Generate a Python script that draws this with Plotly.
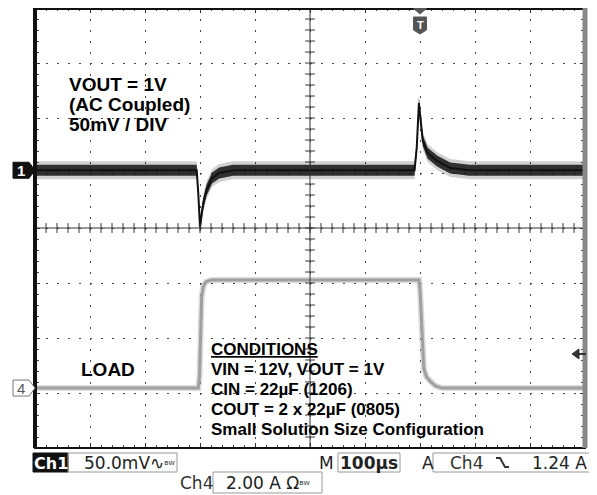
import plotly.graph_objects as go

# ---------------- data ----------------
# time in microseconds (100 us / div, 10 div across)
ch1_t = [0, 294, 297, 300, 303, 306, 312, 322, 335, 360, 690, 694, 698, 701, 705, 714, 731, 755, 790, 1000]
ch1_mv = [0, 0, -22, -52, -40, -30, -18, -7, -2.5, 0, 0, 20, 61, 45, 27, 15.5, 8.5, 2, 0, 0]  # mV (AC coupled)
ch4_t = [0, 297, 299, 301, 303, 306, 311, 320, 698, 700, 702, 704, 707, 712, 718, 728, 740, 1000]
ch4_a = [0, 0, 0.4, 2.0, 3.3, 3.7, 3.87, 3.93, 3.93, 3.6, 2.6, 1.7, 0.7, 0.4, 0.25, 0.08, 0, 0]  # A

CH1_SCALE = 50.0   # mV/div
CH4_SCALE = 2.0    # A/div
CH1_POS = 1.05     # div
CH4_POS = -2.91    # div
TRIG_T = 700       # us
TRIG_LEVEL = 1.24  # A

text_vout = ["VOUT = 1V", "(AC Coupled)", "50mV / DIV"]
text_cond = ["VIN = 12V, VOUT = 1V", "CIN = 22µF (1206)", "COUT = 2 x 22µF (0805)",
             "Small Solution Size Configuration"]

# ---------------- helpers (window pixel coords; page body has 8px margin) ----------------
OFF = 8
W, H = 597 - OFF, 495 - OFF
L, R, T, B = 35, 585, 8, 448
def PX(x): return (x - L) / (R - L)
def PY(y): return (B - y) / (B - T)
def DY(px):  # pixel height -> divisions
    return px * 8.0 / (B - T)

y1 = [CH1_POS + v / CH1_SCALE for v in ch1_mv]
y4 = [CH4_POS + a / CH4_SCALE for a in ch4_a]

fig = go.Figure()

def band(t, y, half, color):
    up = [v + half for v in y]
    lo = [v - half for v in y]
    fig.add_trace(go.Scatter(x=t, y=up, mode="lines", line=dict(width=0, color=color),
                             hoverinfo="skip", showlegend=False))
    fig.add_trace(go.Scatter(x=t, y=lo, mode="lines", line=dict(width=0, color=color),
                             fill="tonexty", fillcolor=color, hoverinfo="skip", showlegend=False))

# ch1 noisy band
band(ch1_t, y1, DY(9), "rgba(0,0,0,0.18)")
band(ch1_t, y1, DY(5.5), "rgba(25,25,25,0.88)")
fig.add_trace(go.Scatter(x=ch1_t, y=y1, mode="lines", line=dict(width=2, color="#111"),
                         hoverinfo="skip", showlegend=False))
# ch4
fig.add_trace(go.Scatter(x=ch4_t, y=y4, mode="lines", line=dict(width=6, color="rgba(175,175,175,0.45)"),
                         hoverinfo="skip", showlegend=False))
fig.add_trace(go.Scatter(x=ch4_t, y=y4, mode="lines", line=dict(width=3, color="#a0a0a0"),
                         hoverinfo="skip", showlegend=False))

# center cross tick marks
ht = [i * 20 for i in range(51)]
fig.add_trace(go.Scatter(x=ht, y=[0] * len(ht), mode="markers",
                         marker=dict(symbol="line-ns", size=7, line=dict(width=1, color="#333")),
                         hoverinfo="skip", showlegend=False))
vt = [-4 + i * 0.2 for i in range(41)]
fig.add_trace(go.Scatter(x=[500] * len(vt), y=vt, mode="markers",
                         marker=dict(symbol="line-ew", size=7, line=dict(width=1, color="#333")),
                         hoverinfo="skip", showlegend=False))

shapes = []
# center lines
shapes.append(dict(type="line", xref="x", yref="y", x0=0, x1=1000, y0=0, y1=0, line=dict(color="#333", width=1)))
shapes.append(dict(type="line", xref="x", yref="y", x0=500, x1=500, y0=-4, y1=4, line=dict(color="#333", width=1)))
# borders
shapes.append(dict(type="line", xref="paper", yref="paper", x0=0, x1=1, y0=1, y1=1, line=dict(color="#111", width=4)))
shapes.append(dict(type="line", xref="paper", yref="paper", x0=0, x1=0, y0=0, y1=1, line=dict(color="#111", width=4)))
shapes.append(dict(type="line", xref="paper", yref="paper", x0=0, x1=1, y0=0, y1=0, line=dict(color="#111", width=2)))
shapes.append(dict(type="line", xref="paper", yref="paper", x0=1, x1=1, y0=0, y1=1, line=dict(color="#888", width=5)))

# channel markers
def chan_marker(ypos, fill, line):
    h = DY(8)
    p = (f"M{PX(13)},{ypos + h} L{PX(29)},{ypos + h} L{PX(35)},{ypos} "
         f"L{PX(29)},{ypos - h} L{PX(13)},{ypos - h} Z")
    return dict(type="path", xref="paper", yref="y", path=p, fillcolor=fill, line=dict(color=line, width=1))
shapes.append(chan_marker(CH1_POS, "#111", "#111"))
shapes.append(chan_marker(CH4_POS, "white", "#777"))

# trigger position marker (T)
dx = 100.0 / 55.0
tp = (f"M{TRIG_T - 6.5 * dx},{PY(17)} L{TRIG_T + 6.5 * dx},{PY(17)} L{TRIG_T + 6.5 * dx},{PY(30)} "
      f"L{TRIG_T},{PY(34)} L{TRIG_T - 6.5 * dx},{PY(30)} Z")
shapes.append(dict(type="path", xref="x", yref="paper", path=tp, fillcolor="#555", line=dict(color="#555", width=1)))
tt = f"M{TRIG_T - 7 * dx},{PY(8)} L{TRIG_T + 7 * dx},{PY(8)} L{TRIG_T},{PY(14)} Z"
shapes.append(dict(type="path", xref="x", yref="paper", path=tt, fillcolor="#555", line=dict(color="#555", width=1)))

# trigger level arrow at right
ty = CH4_POS + TRIG_LEVEL / CH4_SCALE
ap = f"M{PX(572)},{ty} L{PX(579)},{ty + DY(5)} L{PX(579)},{ty - DY(5)} Z"
shapes.append(dict(type="path", xref="paper", yref="y", path=ap, fillcolor="#333", line=dict(color="#333", width=1)))
shapes.append(dict(type="line", xref="paper", yref="y", x0=PX(578), x1=PX(586), y0=ty, y1=ty, line=dict(color="#333", width=2)))

# bottom readout boxes
def box(x0, y0, x1, y1, fill="rgba(0,0,0,0)", line="#999"):
    return dict(type="rect", xref="paper", yref="paper", x0=PX(x0), x1=PX(x1), y0=PY(y1), y1=PY(y0),
                fillcolor=fill, line=dict(color=line, width=1))
shapes.append(box(33, 453, 68, 472, fill="#111", line="#111"))
shapes.append(box(68, 453, 177, 472))
shapes.append(box(338, 453, 400, 472))
shapes.append(box(433, 453, 620, 472))
shapes.append(box(213, 472, 322, 493))
# falling edge glyph
shapes.append(dict(type="path", xref="paper", yref="paper",
                   path=f"M{PX(496)},{PY(458)} L{PX(500)},{PY(458)} L{PX(505)},{PY(467)} L{PX(509)},{PY(467)}",
                   line=dict(color="#333", width=2)))

ann = []
def txt(x, y, s, size=15, color="#222", family="DejaVu Sans", xanchor="left", bold=False, yref="paper"):
    ann.append(dict(x=PX(x), y=(PY(y) if yref == "paper" else y), xref="paper", yref=yref,
                    text=(f"<b>{s}</b>" if bold else s), showarrow=False,
                    xanchor=xanchor, yanchor="middle",
                    font=dict(size=size, color=color, family=family)))

# channel marker labels
txt(21, CH1_POS, "1", size=15, color="white", family="Liberation Sans", xanchor="center", bold=True, yref="y")
txt(21, CH4_POS, "4", size=15, color="#555", family="Liberation Sans", xanchor="center", yref="y")
txt(420.5, 25, "T", size=11, color="white", family="Liberation Sans", xanchor="center", bold=True)

# overlay text
for i, s in enumerate(text_vout):
    txt(67, 84 + i * 20.5, s, size=19, color="black", family="Liberation Sans", bold=True)
txt(79, 369, "LOAD", size=19, color="black", family="Liberation Sans", bold=True)
txt(209, 349, "<u>CONDITIONS</u>", size=17, color="black", family="Liberation Sans", bold=True)
for i, s in enumerate(text_cond):
    txt(209, 369 + i * 20.3, s, size=17, color="black", family="Liberation Sans", bold=True)

# readouts
txt(50.5, 463, "Ch1", size=16, color="white", family="DejaVu Sans", xanchor="center", bold=True)
txt(82, 463, "50.0mV∿<span style='font-size:10px'>ᴮᵂ</span>", size=17, color="#222")
txt(326, 463, "M", size=17, color="#222", xanchor="center")
txt(369, 463, "100µs", size=17, color="#222", xanchor="center", bold=True)
txt(428, 463, "A", size=17, color="#222", xanchor="center")
txt(448, 463, "Ch4", size=17, color="#333")
txt(530, 463, "1.24 A", size=17, color="#222")
txt(196, 483, "Ch4", size=17, color="#333", xanchor="center")
txt(224, 483, "2.00 A Ω<span style='font-size:10px'>ᴮᵂ</span>", size=17, color="#222")

fig.update_layout(
    width=W, height=H, autosize=False,
    margin=dict(l=L - OFF, r=597 - R, t=T - OFF, b=495 - B, pad=0),
    paper_bgcolor="white", plot_bgcolor="white",
    showlegend=False, shapes=shapes, annotations=ann,
    xaxis=dict(range=[0, 1000], dtick=100, showgrid=True, gridcolor="#444", gridwidth=1,
               griddash="2px,9px", zeroline=False, showticklabels=False,
               ticks="inside", ticklen=5, tickcolor="#333", showline=True, linecolor="#111",
               mirror="allticks",
               minor=dict(dtick=20, ticks="inside", ticklen=3, tickcolor="#444", showgrid=False),
               fixedrange=True),
    yaxis=dict(range=[-4, 4], dtick=1, showgrid=True, gridcolor="#444", gridwidth=1,
               griddash="2px,9px", zeroline=False, showticklabels=False,
               ticks="inside", ticklen=5, tickcolor="#333", showline=True, linecolor="#111",
               mirror="allticks",
               minor=dict(dtick=0.2, ticks="inside", ticklen=4, tickcolor="#444", showgrid=False),
               fixedrange=True),
)

fig.write_html("out.html")
